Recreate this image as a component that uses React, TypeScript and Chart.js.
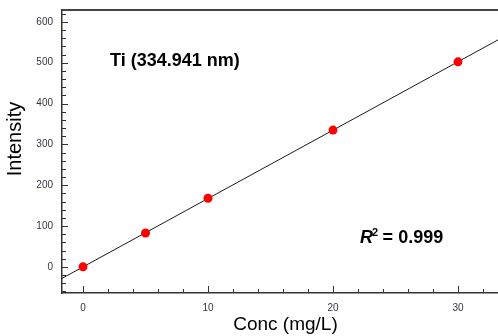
import React, { useEffect, useRef } from "react";
import { Chart, registerables } from "chart.js";

Chart.register(...registerables);

const concentrations = [0, 5, 10, 20, 30];
const intensities = [0, 83, 168, 335, 502];
const xLimits = [-1.68, 33.2];
const yLimits = [-64, 629];
const xTickValues = [0, 10, 20, 30];
const yTickValues = [0, 100, 200, 300, 400, 500, 600];
const titleText = "Ti (334.941 nm)";
const r2Text = "0.999";
const xTitle = "Conc (mg/L)";
const yTitle = "Intensity";

const FONT = "'Liberation Sans', Arial, sans-serif";

function fitLine(xs: number[], ys: number[]) {
  const n = xs.length;
  const mx = xs.reduce((a, b) => a + b, 0) / n;
  const my = ys.reduce((a, b) => a + b, 0) / n;
  let sxy = 0, sxx = 0;
  for (let i = 0; i < n; i++) {
    sxy += (xs[i] - mx) * (ys[i] - my);
    sxx += (xs[i] - mx) * (xs[i] - mx);
  }
  const slope = sxy / sxx;
  return { slope, intercept: my - slope * mx };
}

const decorPlugin = {
  id: "decor",
  afterDraw(chart: any) {
    const { ctx, chartArea, scales } = chart;
    const xs = scales.x;
    const ys = scales.y;
    ctx.save();
    // top border
    ctx.strokeStyle = "#444";
    ctx.lineWidth = 2;
    ctx.beginPath();
    ctx.moveTo(chartArea.left, chartArea.top);
    ctx.lineTo(chartArea.right, chartArea.top);
    ctx.stroke();
    // x ticks (inward)
    ctx.strokeStyle = "#333";
    ctx.lineWidth = 1;
    for (let v = 0; v <= xLimits[1]; v += 2) {
      const px = Math.round(xs.getPixelForValue(v)) + 0.5;
      const major = v % 10 === 0;
      ctx.beginPath();
      ctx.moveTo(px, chartArea.bottom);
      ctx.lineTo(px, chartArea.bottom - (major ? 7 : 4));
      ctx.stroke();
    }
    // y ticks (inward)
    for (let v = -60; v <= yLimits[1]; v += 20) {
      const py = Math.round(ys.getPixelForValue(v)) + 0.5;
      const major = v % 100 === 0;
      ctx.beginPath();
      ctx.moveTo(chartArea.left, py);
      ctx.lineTo(chartArea.left + (major ? 6 : 4), py);
      ctx.stroke();
    }
    // annotations
    ctx.fillStyle = "#000";
    ctx.textBaseline = "middle";
    ctx.textAlign = "left";
    ctx.font = `bold 18px ${FONT}`;
    ctx.fillText(titleText, xs.getPixelForValue(2.16), ys.getPixelForValue(503));
    const rx = xs.getPixelForValue(22.16);
    const ry = ys.getPixelForValue(71);
    ctx.font = `italic bold 18px ${FONT}`;
    ctx.fillText("R", rx, ry);
    const w1 = ctx.measureText("R").width;
    ctx.font = `bold 11px ${FONT}`;
    ctx.fillText("2", rx + w1 - 1, ry - 5);
    const w2 = ctx.measureText("2").width;
    ctx.font = `bold 18px ${FONT}`;
    ctx.fillText(" = " + r2Text, rx + w1 + w2 - 1.5, ry);
    // axis titles
    ctx.font = `19px ${FONT}`;
    ctx.textAlign = "center";
    ctx.fillText(xTitle, 285.5, 325);
    ctx.translate(15.5, 139);
    ctx.rotate(-Math.PI / 2);
    ctx.font = `20px ${FONT}`;
    ctx.fillText(yTitle, 0, 0);
    ctx.restore();
  },
};

export default function App() {
  const ref = useRef<HTMLCanvasElement>(null);
  useEffect(() => {
    if (!ref.current) return;
    const { slope, intercept } = fitLine(concentrations, intensities);
    const linePts = xLimits.map((x) => ({ x, y: slope * x + intercept }));
    const chart = new Chart(ref.current, {
      type: "scatter",
      data: {
        datasets: [
          {
            type: "line",
            data: linePts,
            borderColor: "#1a1a1a",
            borderWidth: 1,
            pointRadius: 0,
            fill: false,
            order: 2,
          } as any,
          {
            data: concentrations.map((x, i) => ({ x, y: intensities[i] })),
            backgroundColor: "#ff0000",
            borderColor: "#ff0000",
            pointRadius: 4.5,
            borderWidth: 0,
            order: 1,
          },
        ],
      },
      plugins: [decorPlugin],
      options: {
        animation: false,
        responsive: false,
        maintainAspectRatio: false,
        layout: { autoPadding: false, padding: { top: 10, right: 0, left: 0, bottom: 0 } },
        plugins: { legend: { display: false }, tooltip: { enabled: false } },
        scales: {
          x: {
            type: "linear",
            min: xLimits[0],
            max: xLimits[1],
            afterFit: (s: any) => {
              s.height = 43;
              s.paddingLeft = 0;
              s.paddingRight = 0;
            },
            afterBuildTicks: (s: any) => {
              s.ticks = xTickValues.map((v) => ({ value: v }));
            },
            grid: { display: false, drawTicks: false },
            border: { display: true, color: "#333", width: 1.5 },
            ticks: {
              padding: 9,
              color: "#333344",
              font: { size: 10, family: FONT },
            },
            title: { display: false },
          },
          y: {
            type: "linear",
            min: yLimits[0],
            max: yLimits[1],
            afterFit: (s: any) => {
              s.width = 62;
              s.paddingTop = 0;
              s.paddingBottom = 0;
            },
            afterBuildTicks: (s: any) => {
              s.ticks = yTickValues.map((v) => ({ value: v }));
            },
            grid: { display: false, drawTicks: false },
            border: { display: true, color: "#333", width: 1.5 },
            ticks: {
              padding: 9,
              color: "#333344",
              font: { size: 10, family: FONT },
            },
            title: { display: false },
          },
        },
      } as any,
    });
    return () => chart.destroy();
  }, []);
  return (
    <div style={{ position: "fixed", left: 0, top: 0, width: 498, height: 336, background: "#fff" }}>
      <canvas ref={ref} width={498} height={336} style={{ width: 498, height: 336 }} />
    </div>
  );
}
